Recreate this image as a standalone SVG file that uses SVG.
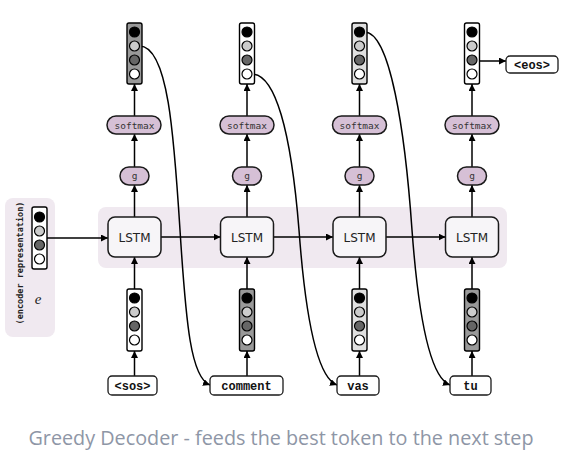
<svg xmlns="http://www.w3.org/2000/svg" width="565" height="458" viewBox="0 0 565 458">
<defs>
<marker id="ah" viewBox="0 0 10 10" refX="10" refY="5" markerWidth="7" markerHeight="7" markerUnits="userSpaceOnUse" orient="auto">
<path d="M0,0 L10,5 L0,10 z" fill="#000"/>
</marker>
<style>
.panel{fill:#f0e9f0;}
.lstm{fill:#f7f5f8;stroke:#1a1a1a;stroke-width:1.5;}
.lstmt{font-family:"DejaVu Sans",sans-serif;font-size:12px;fill:#222;text-anchor:middle;}
.pill{fill:#d6c0d6;stroke:#1a1a1a;stroke-width:1.5;}
.pillt{font-family:"DejaVu Sans Mono","Liberation Mono",monospace;font-size:9.5px;fill:#333;text-anchor:middle;}
.vec{stroke:#000;stroke-width:1.4;}
.c{stroke:#000;stroke-width:1.2;}
.c1{fill:#000;}.c2{fill:#cccccc;}.c3{fill:#666;}.c4{fill:#fff;}
.tok{fill:#fff;stroke:#1a1a1a;stroke-width:1.3;}
.tokt{font-family:"Liberation Mono","DejaVu Sans Mono",monospace;font-weight:bold;font-size:12px;fill:#111;text-anchor:middle;}
.ln{fill:none;stroke:#000;stroke-width:1.5;marker-end:url(#ah);}
</style>
</defs>
<rect width="565" height="458" fill="#fff"/>

<g id="encoder">
<rect class="panel" x="5" y="198" width="50" height="139" rx="8"/>
<text x="20" y="263" transform="rotate(-90 20 263)" font-family="DejaVu Sans Mono,monospace" font-weight="bold" font-size="8.5" fill="#222" text-anchor="middle" dominant-baseline="middle">(encoder representation)</text>
<text x="38" y="304" font-family="Liberation Serif,serif" font-style="italic" font-size="15" fill="#222" text-anchor="middle">e</text>
<rect class="vec" x="32" y="207" width="15" height="62" rx="2" fill="#fff"/>
<circle class="c c1" cx="39.5" cy="217" r="5"/>
<circle class="c c2" cx="39.5" cy="231" r="5"/>
<circle class="c c3" cx="39.5" cy="245" r="5"/>
<circle class="c c4" cx="39.5" cy="259" r="5"/>
</g>

<g id="band"><rect class="panel" x="98" y="207" width="409" height="61" rx="8"/></g>

<g id="connectors">
<path class="ln" d="M47,238 L108,238"/>
<path class="ln" d="M161,237 L220.5,237"/>
<path class="ln" d="M273.5,237 L333,237"/>
<path class="ln" d="M386,237 L445.5,237"/>
<path class="ln" d="M134.5,217 L134.5,185"/><path class="ln" d="M134.5,167 L134.5,134"/><path class="ln" d="M134.5,116 L134.5,84"/>
<path class="ln" d="M247,217 L247,185"/><path class="ln" d="M247,167 L247,134"/><path class="ln" d="M247,116 L247,84"/>
<path class="ln" d="M359.5,217 L359.5,185"/><path class="ln" d="M359.5,167 L359.5,134"/><path class="ln" d="M359.5,116 L359.5,84"/>
<path class="ln" d="M472,217 L472,185"/><path class="ln" d="M472,167 L472,134"/><path class="ln" d="M472,116 L472,84"/>
<path class="ln" d="M134.5,289 L134.5,257"/><path class="ln" d="M134.5,376 L134.5,351"/>
<path class="ln" d="M247,289 L247,257"/><path class="ln" d="M247,376 L247,351"/>
<path class="ln" d="M359.5,289 L359.5,257"/><path class="ln" d="M359.5,376 L359.5,351"/>
<path class="ln" d="M472,289 L472,257"/><path class="ln" d="M472,376 L472,351"/>
<path class="ln" d="M479.5,61 L506,61"/>
<path class="ln" d="M139.5,46 C168,46 174,135 180,230 C186,325 191,378 210,385"/>
<path class="ln" d="M252,74 C275,74 291,130 299,230 C306,325 318,378 337,385"/>
<path class="ln" d="M364.5,32 C390,32 405,130 412,230 C419,325 431,378 450,385"/>
</g>

<g id="col1">
<rect class="lstm" x="108" y="217" width="53" height="40" rx="7"/><text class="lstmt" x="134.5" y="241.5">LSTM</text>
<rect class="pill" x="120" y="167" width="29" height="18" rx="9"/><text class="pillt" x="134.5" y="179">g</text>
<rect class="pill" x="107" y="116" width="54" height="18" rx="9"/><text class="pillt" x="134.5" y="128.5">softmax</text>
<rect class="vec" x="127" y="23" width="15" height="61" rx="2" fill="#999"/>
<circle class="c c1" cx="134.5" cy="32" r="5"/><circle class="c c2" cx="134.5" cy="46" r="5"/><circle class="c c3" cx="134.5" cy="60" r="5"/><circle class="c c4" cx="134.5" cy="74" r="5"/>
<rect class="vec" x="127" y="289" width="15" height="62" rx="2" fill="#fff"/>
<circle class="c c1" cx="134.5" cy="298" r="5"/><circle class="c c2" cx="134.5" cy="312" r="5"/><circle class="c c3" cx="134.5" cy="326" r="5"/><circle class="c c4" cx="134.5" cy="340" r="5"/>
<rect class="tok" x="108" y="376" width="49" height="19" rx="4"/><text class="tokt" x="132.5" y="389.5">&lt;sos&gt;</text>
</g>

<g id="col2">
<rect class="lstm" x="220.5" y="217" width="53" height="40" rx="7"/><text class="lstmt" x="247" y="241.5">LSTM</text>
<rect class="pill" x="232.5" y="167" width="29" height="18" rx="9"/><text class="pillt" x="247" y="179">g</text>
<rect class="pill" x="220" y="116" width="54" height="18" rx="9"/><text class="pillt" x="247" y="128.5">softmax</text>
<rect class="vec" x="239.5" y="23" width="15" height="61" rx="2" fill="#fff"/>
<circle class="c c1" cx="247" cy="32" r="5"/><circle class="c c2" cx="247" cy="46" r="5"/><circle class="c c3" cx="247" cy="60" r="5"/><circle class="c c4" cx="247" cy="74" r="5"/>
<rect class="vec" x="239.5" y="289" width="15" height="62" rx="2" fill="#999"/>
<circle class="c c1" cx="247" cy="298" r="5"/><circle class="c c2" cx="247" cy="312" r="5"/><circle class="c c3" cx="247" cy="326" r="5"/><circle class="c c4" cx="247" cy="340" r="5"/>
<rect class="tok" x="210" y="376" width="73" height="19" rx="4"/><text class="tokt" x="246.5" y="389.5">comment</text>
</g>

<g id="col3">
<rect class="lstm" x="333" y="217" width="53" height="40" rx="7"/><text class="lstmt" x="359.5" y="241.5">LSTM</text>
<rect class="pill" x="345" y="167" width="29" height="18" rx="9"/><text class="pillt" x="359.5" y="179">g</text>
<rect class="pill" x="332.5" y="116" width="54" height="18" rx="9"/><text class="pillt" x="359.5" y="128.5">softmax</text>
<rect class="vec" x="352" y="23" width="15" height="61" rx="2" fill="#e0e0e0"/>
<circle class="c c1" cx="359.5" cy="32" r="5"/><circle class="c c2" cx="359.5" cy="46" r="5"/><circle class="c c3" cx="359.5" cy="60" r="5"/><circle class="c c4" cx="359.5" cy="74" r="5"/>
<rect class="vec" x="352" y="289" width="15" height="62" rx="2" fill="#e0e0e0"/>
<circle class="c c1" cx="359.5" cy="298" r="5"/><circle class="c c2" cx="359.5" cy="312" r="5"/><circle class="c c3" cx="359.5" cy="326" r="5"/><circle class="c c4" cx="359.5" cy="340" r="5"/>
<rect class="tok" x="337" y="376" width="42" height="19" rx="4"/><text class="tokt" x="358" y="389.5">vas</text>
</g>

<g id="col4">
<rect class="lstm" x="445.5" y="217" width="53" height="40" rx="7"/><text class="lstmt" x="472" y="241.5">LSTM</text>
<rect class="pill" x="457.5" y="167" width="29" height="18" rx="9"/><text class="pillt" x="472" y="179">g</text>
<rect class="pill" x="445" y="116" width="54" height="18" rx="9"/><text class="pillt" x="472" y="128.5">softmax</text>
<rect class="vec" x="464.5" y="23" width="15" height="61" rx="2" fill="#fff"/>
<circle class="c c1" cx="472" cy="32" r="5"/><circle class="c c2" cx="472" cy="46" r="5"/><circle class="c c3" cx="472" cy="60" r="5"/><circle class="c c4" cx="472" cy="74" r="5"/>
<rect class="vec" x="464.5" y="289" width="15" height="62" rx="2" fill="#999"/>
<circle class="c c1" cx="472" cy="298" r="5"/><circle class="c c2" cx="472" cy="312" r="5"/><circle class="c c3" cx="472" cy="326" r="5"/><circle class="c c4" cx="472" cy="340" r="5"/>
<rect class="tok" x="450" y="376" width="41" height="19" rx="4"/><text class="tokt" x="470.5" y="389.5">tu</text>
</g>

<g id="eos">
<rect class="tok" x="506" y="56" width="52" height="17" rx="4"/><text class="tokt" x="532" y="68.5">&lt;eos&gt;</text>
</g>

<text x="281" y="445" font-family="Open Sans,Noto Sans,sans-serif" font-size="19.8" fill="#8e96a6" text-anchor="middle">Greedy Decoder - feeds the best token to the next step</text>
</svg>
